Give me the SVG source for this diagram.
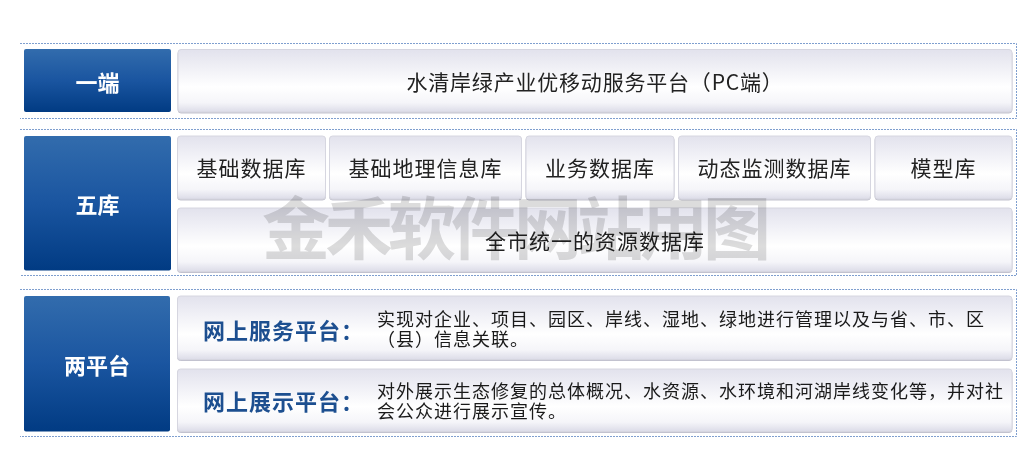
<svg xmlns="http://www.w3.org/2000/svg" width="1031" height="458" viewBox="0 0 1031 458">
<defs>
<linearGradient id="gBlue" x1="0" y1="0" x2="0" y2="1">
<stop offset="0" stop-color="#326cad"/>
<stop offset="0.5" stop-color="#1a55a0"/>
<stop offset="1" stop-color="#013b83"/>
</linearGradient>
<linearGradient id="gWhite" x1="0" y1="0" x2="0" y2="1">
<stop offset="0" stop-color="#e2e2ed"/>
<stop offset="0.6" stop-color="#ffffff"/>
<stop offset="0.85" stop-color="#f5f5f9"/>
<stop offset="1" stop-color="#dcdce8"/>
</linearGradient>
<filter id="sh" x="-5%" y="-10%" width="110%" height="130%">
<feDropShadow dx="0" dy="1" stdDeviation="0.6" flood-color="#9a9aae" flood-opacity="0.6"/>
</filter>
</defs>
<style>
.sec{fill:none;stroke:#7f9fcf;stroke-width:1;stroke-dasharray:2 1}
.blue{fill:url(#gBlue)}
.box{fill:url(#gWhite);stroke:#d6d6e0;stroke-width:1;filter:url(#sh)}
.hd{font-family:"Noto Sans CJK SC","Noto Sans",sans-serif;font-size:22px;font-weight:bold;fill:#ffffff;text-anchor:middle;dominant-baseline:central}
.lbl{font-family:"Noto Sans CJK SC","Noto Sans",sans-serif;font-size:21px;fill:#222222;text-anchor:middle;dominant-baseline:central;letter-spacing:1px}
.pl{font-family:"Noto Sans CJK SC","Noto Sans",sans-serif;font-size:22px;font-weight:bold;fill:#1d4f90;dominant-baseline:central;letter-spacing:1px}
.desc{font-family:"Noto Sans CJK SC","Noto Sans",sans-serif;font-size:18px;fill:#1a1a1a;letter-spacing:1px}
.wm{font-family:"Noto Sans CJK SC",sans-serif;font-size:68px;font-weight:bold;fill:#dcdcdc;letter-spacing:-5px;mix-blend-mode:multiply}
</style>
<g id="sections">
<path class="sec" d="M20 43.5 H1016.5 V118.5 H20"/>
<path class="sec" d="M20 129.5 H1016.5 V275.5 H20"/>
<path class="sec" d="M20 289.5 H1016.5 V436.5 H20"/>
</g>
<g id="hdr-yiduan">
<rect class="blue" x="24" y="49" width="147" height="63" rx="2"/>
<text class="hd" x="97.5" y="81">一端</text>
</g>
<g id="pc-platform">
<rect class="box" x="178" y="49.5" width="834" height="62.5" rx="3"/>
<text class="lbl" x="595" y="81" style="letter-spacing:0.8px">水清岸绿产业优移动服务平台（PC端）</text>
</g>
<g id="hdr-wuku">
<rect class="blue" x="24" y="136" width="147" height="134.5" rx="2"/>
<text class="hd" x="97.5" y="203">五库</text>
</g>
<g id="db1">
<rect class="box" x="177.5" y="136" width="148" height="63" rx="3"/>
<text class="lbl" x="251.5" y="167">基础数据库</text>
</g>
<g id="db2">
<rect class="box" x="329.5" y="136" width="192" height="63" rx="3"/>
<text class="lbl" x="425.5" y="167">基础地理信息库</text>
</g>
<g id="db3">
<rect class="box" x="526" y="136" width="148" height="63" rx="3"/>
<text class="lbl" x="600" y="167">业务数据库</text>
</g>
<g id="db4">
<rect class="box" x="678.5" y="136" width="192" height="63" rx="3"/>
<text class="lbl" x="774.5" y="167">动态监测数据库</text>
</g>
<g id="db5">
<rect class="box" x="875" y="136" width="137" height="63" rx="3"/>
<text class="lbl" x="943.5" y="167">模型库</text>
</g>
<g id="db-all">
<rect class="box" x="177.5" y="208" width="834.5" height="63.5" rx="3"/>
<text class="lbl" x="595" y="240">全市统一的资源数据库</text>
</g>
<g id="hdr-liangpingtai">
<rect class="blue" x="24" y="296" width="146" height="135.5" rx="2"/>
<text class="hd" x="97" y="364">两平台</text>
</g>
<g id="service-platform">
<rect class="box" x="177.5" y="296" width="834.5" height="63.5" rx="3"/>
<text class="pl" x="203" y="329">网上服务平台：</text>
<text class="desc" x="377" y="326">实现对企业、项目、园区、岸线、湿地、绿地进行管理以及与省、市、区</text>
<text class="desc" x="377" y="346">（县）信息关联。</text>
</g>
<g id="display-platform">
<rect class="box" x="177.5" y="369" width="834.5" height="62.5" rx="3"/>
<text class="pl" x="203" y="400">网上展示平台：</text>
<text class="desc" x="377" y="398">对外展示生态修复的总体概况、水资源、水环境和河湖岸线变化等，并对社</text>
<text class="desc" x="377" y="418">会公众进行展示宣传。</text>
</g>
<text class="wm" x="262" y="254">金禾软件网站用图</text>
</svg>
